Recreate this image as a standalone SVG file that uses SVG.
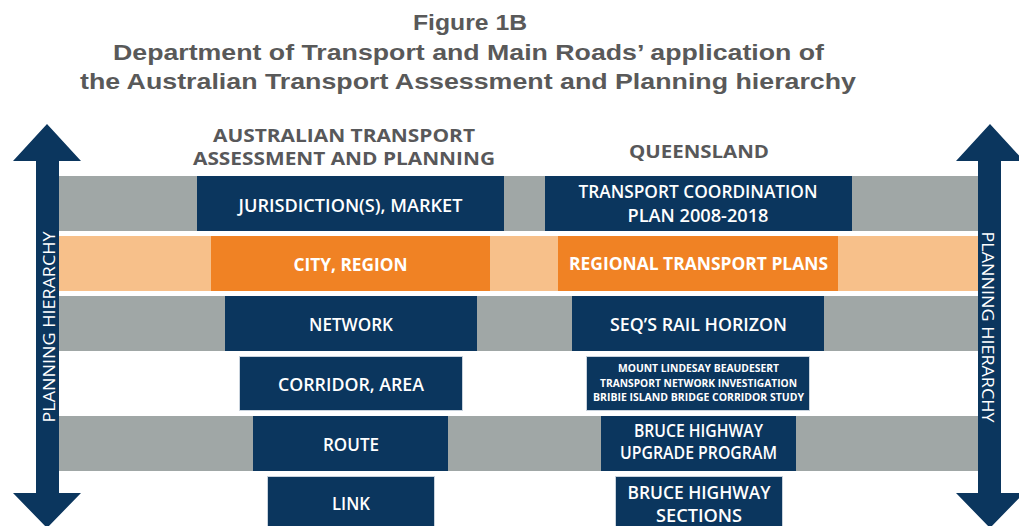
<svg xmlns="http://www.w3.org/2000/svg" width="1019" height="526" viewBox="0 0 1019 526">
<style>
.title{font-family:"Liberation Sans",Arial,sans-serif;font-weight:bold;font-size:22px;fill:#595959;text-anchor:middle}
.hdr{font-family:"Open Sans","DejaVu Sans",sans-serif;font-weight:bold;font-size:18px;fill:#58585a;text-anchor:middle}
.bt{font-family:"Open Sans","DejaVu Sans",sans-serif;font-weight:600;font-size:18px;fill:#ffffff;text-anchor:middle}
.bb{font-family:"Open Sans","DejaVu Sans",sans-serif;font-weight:bold;font-size:18px;fill:#ffffff;text-anchor:middle}
.sm{font-family:"Open Sans","DejaVu Sans",sans-serif;font-weight:bold;font-size:11px;fill:#ffffff;text-anchor:middle}
.side{font-family:"Open Sans","DejaVu Sans",sans-serif;font-weight:normal;font-size:16px;fill:#ffffff;text-anchor:middle}
.gray{fill:#a0a7a6}
.lor{fill:#f7c08a}
.navy{fill:#0b365e}
.org{fill:#f08224}
.nb{fill:#0b365e;stroke:#c9d3dd;stroke-width:1}
</style>
<rect width="1019" height="526" fill="#ffffff"/>
<g id="title">
<text class="title" x="470" y="30" textLength="114" lengthAdjust="spacingAndGlyphs">Figure 1B</text>
<text class="title" x="468.5" y="60" textLength="711" lengthAdjust="spacingAndGlyphs">Department of Transport and Main Roads’ application of</text>
<text class="title" x="468" y="89" textLength="776" lengthAdjust="spacingAndGlyphs">the Australian Transport Assessment and Planning hierarchy</text>
</g>
<g id="headers">
<text class="hdr" x="344" y="142" textLength="262" lengthAdjust="spacingAndGlyphs">AUSTRALIAN TRANSPORT</text>
<text class="hdr" x="344" y="165" textLength="302" lengthAdjust="spacingAndGlyphs">ASSESSMENT AND PLANNING</text>
<text class="hdr" x="699" y="158" textLength="140" lengthAdjust="spacingAndGlyphs">QUEENSLAND</text>
</g>
<g id="bands">
<rect class="gray" x="59" y="176" width="919" height="55"/>
<rect class="lor" x="59" y="236" width="919" height="55"/>
<rect class="gray" x="59" y="296" width="919" height="55"/>
<rect class="gray" x="59" y="416" width="919" height="55"/>
</g>
<g id="arrow-left">
<polygon class="navy" points="36,161 13,161 47,124 81,161 59,161 59,493 81,493 47,528 13,493 36,493"/>
<text class="side" transform="translate(55,327) rotate(-90)" x="0" y="0" textLength="191" lengthAdjust="spacingAndGlyphs">PLANNING HIERARCHY</text>
</g>
<g id="arrow-right">
<polygon class="navy" points="978,161 956,161 990,124 1024,161 1001,161 1001,493 1024,493 990,528 956,493 978,493"/>
<text class="side" transform="translate(982,327) rotate(90)" x="0" y="0" textLength="191" lengthAdjust="spacingAndGlyphs">PLANNING HIERARCHY</text>
</g>
<g id="node-jurisdiction">
<rect class="navy" x="197" y="176" width="307" height="55"/>
<text class="bt" x="350.5" y="212" textLength="224" lengthAdjust="spacingAndGlyphs">JURISDICTION(S), MARKET</text>
</g>
<g id="node-tcp">
<rect class="navy" x="545" y="176" width="307" height="55"/>
<text class="bt" x="698" y="198" textLength="239" lengthAdjust="spacingAndGlyphs">TRANSPORT COORDINATION</text>
<text class="bt" x="698" y="222" textLength="141" lengthAdjust="spacingAndGlyphs">PLAN 2008-2018</text>
</g>
<g id="node-city">
<rect class="org" x="211" y="236" width="279" height="55"/>
<text class="bb" x="350.5" y="271" textLength="114" lengthAdjust="spacingAndGlyphs">CITY, REGION</text>
</g>
<g id="node-rtp">
<rect class="org" x="558" y="236" width="280" height="55"/>
<text class="bb" x="698.5" y="270" textLength="259" lengthAdjust="spacingAndGlyphs">REGIONAL TRANSPORT PLANS</text>
</g>
<g id="node-network">
<rect class="navy" x="225" y="296" width="252" height="55"/>
<text class="bt" x="351" y="331" textLength="84" lengthAdjust="spacingAndGlyphs">NETWORK</text>
</g>
<g id="node-seq">
<rect class="navy" x="572" y="296" width="252" height="55"/>
<text class="bt" x="698.5" y="331" textLength="177" lengthAdjust="spacingAndGlyphs">SEQ’S RAIL HORIZON</text>
</g>
<g id="node-corridor">
<rect class="nb" x="239.5" y="356.5" width="223" height="54"/>
<text class="bt" x="351" y="391" textLength="146" lengthAdjust="spacingAndGlyphs">CORRIDOR, AREA</text>
</g>
<g id="node-mlb">
<rect class="nb" x="586.5" y="356.5" width="223" height="54"/>
<text class="sm" x="698.5" y="372" textLength="161" lengthAdjust="spacingAndGlyphs">MOUNT LINDESAY BEAUDESERT</text>
<text class="sm" x="698.5" y="387" textLength="197" lengthAdjust="spacingAndGlyphs">TRANSPORT NETWORK INVESTIGATION</text>
<text class="sm" x="698.5" y="401" textLength="211" lengthAdjust="spacingAndGlyphs">BRIBIE ISLAND BRIDGE CORRIDOR STUDY</text>
</g>
<g id="node-route">
<rect class="navy" x="253" y="416" width="195" height="55"/>
<text class="bt" x="351" y="451" textLength="56" lengthAdjust="spacingAndGlyphs">ROUTE</text>
</g>
<g id="node-bhup">
<rect class="navy" x="601" y="416" width="195" height="55"/>
<text class="bt" x="698.5" y="437" textLength="129" lengthAdjust="spacingAndGlyphs">BRUCE HIGHWAY</text>
<text class="bt" x="698.5" y="459" textLength="157" lengthAdjust="spacingAndGlyphs">UPGRADE PROGRAM</text>
</g>
<g id="node-link">
<rect class="nb" x="267.5" y="476.5" width="167" height="55"/>
<text class="bt" x="351" y="510" textLength="38" lengthAdjust="spacingAndGlyphs">LINK</text>
</g>
<g id="node-bhs">
<rect class="nb" x="615.5" y="476.5" width="167" height="55"/>
<text class="bt" x="699" y="499" textLength="143" lengthAdjust="spacingAndGlyphs">BRUCE HIGHWAY</text>
<text class="bt" x="699" y="522" textLength="86" lengthAdjust="spacingAndGlyphs">SECTIONS</text>
</g>
<g id="connectors"></g>
</svg>
